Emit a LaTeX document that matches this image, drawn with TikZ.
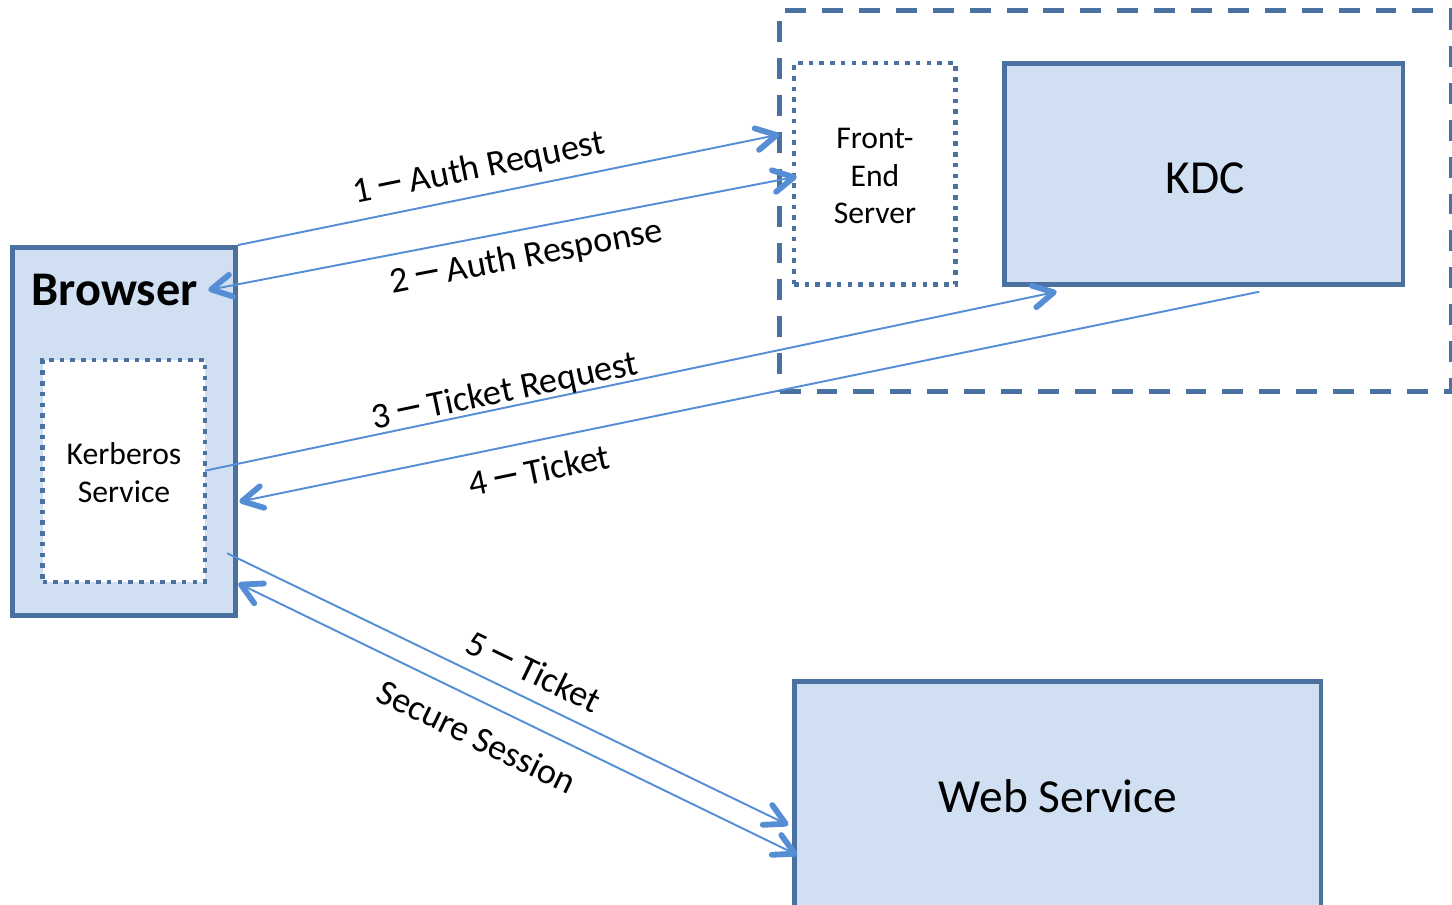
\documentclass[tikz,border=0pt]{standalone}
\usepackage{fontspec}
\usepackage{graphicx}
\setmainfont{Carlito}
\usetikzlibrary{arrows.meta}
\definecolor{edge}{HTML}{4A71A0}
\definecolor{boxfill}{HTML}{D0E0F2}
\definecolor{link}{HTML}{558ED5}
% a longer dash between step number and message name
\newcommand\stepdash{\makebox[0.62em][c]{\scalebox{1.7}[1.3]{–}}}

\begin{document}
\begin{tikzpicture}[x=0.02cm, y=-0.02cm,
  barb/.tip={Straight Barb[length=11.5pt, width=12.5pt, line width=3.3pt, round]},
  solidbox/.style={rectangle, draw=edge, line width=2.8pt, fill=boxfill, inner sep=0pt},
  dotbox/.style={rectangle, draw=edge, line width=2.6pt, dash pattern=on 2.6pt off 3.5pt, fill=white, inner sep=0pt},
  groupbox/.style={rectangle, draw=edge, line width=2.6pt, dash pattern=on 11.9pt off 9.1pt, inner sep=0pt},
  flow/.style={draw=link, line width=1.1pt, -barb},
  twoway/.style={draw=link, line width=1.1pt, barb-barb},
  bigtext/.style={font=\fontsize{27}{32}\selectfont, inner sep=0pt},
  smalltext/.style={font=\fontsize{18}{21.3}\selectfont, align=center, inner sep=0pt},
  flowtext/.style={font=\fontsize{20.6}{24}\selectfont, sloped, anchor=base, inner sep=0pt}
]
\useasboundingbox (0,0) rectangle (1452,904);

% trusted zone around the front-end server and the KDC
\node[groupbox, minimum width=13.43cm, minimum height=7.62cm] (zone) at (1115.35,201.2) {};

% boxes
\node[solidbox, minimum width=4.46cm, minimum height=7.36cm] (browser) at (124,431.5) {};
\node[bigtext, font=\bfseries\fontsize{27.5}{32}\selectfont] (browsertitle) at (114.5,290) {Browser};
\node[dotbox, minimum width=3.25cm, minimum height=4.44cm] (kerberos) at (123.75,471) {};
\node[smalltext] (kerberostext) at (124,472.5) {Kerberos\\Service};

\node[dotbox, minimum width=3.23cm, minimum height=4.43cm] (frontend) at (874.75,173.85) {};
\node[smalltext] (frontendtext) at (875,176) {Front-\\End\\Server};

\node[solidbox, minimum width=7.98cm, minimum height=4.43cm] (kdc) at (1203.5,174) {};
\node[bigtext] (kdctext) at (1205,178) {KDC};

\node[solidbox, minimum width=10.54cm, minimum height=4.6cm] (web) at (1057.5,796) {};
\node[bigtext] (webtext) at (1058,796) {Web Service};

% connector end points
\coordinate (authreqA) at (browser.north east);
\coordinate (authreqB) at (779.5,134.5);
\coordinate (authresA) at (796.7,176.7);
\coordinate (authresB) at (208.3,290);
\coordinate (tickreqA) at (205,470.7);
\coordinate (tickreqB) at (1056.7,291.7);
\coordinate (ticketA) at (1259.3,291.7);
\coordinate (ticketB) at (239.3,501.7);
\coordinate (sendA) at (227.3,553.3);
\coordinate (sendB) at (788.3,825);
\coordinate (sessA) at (797.3,855);
\coordinate (sessB) at (238.3,583.3);

% message flows
\draw[flow] (authreqA) -- node[flowtext, pos=0.455, yshift=9.6pt] {1 \stepdash{} Auth Request} (authreqB);
\draw[twoway] (authresA) -- node[flowtext, pos=0.468, yshift=-21.5pt] {2 \stepdash{} Auth Response} (authresB);
\draw[flow] (tickreqA) -- node[flowtext, pos=0.356, yshift=3.1pt] {3 \stepdash{} Ticket Request} (tickreqB);
\draw[flow] (ticketA) -- node[flowtext, pos=0.712, yshift=-23.8pt] {4 \stepdash{} Ticket} (ticketB);
\draw[flow] (sendA) -- node[flowtext, pos=0.525, yshift=8.5pt] {5 \stepdash{} Ticket} (sendB);
\draw[twoway] (sessA) -- node[flowtext, pos=0.547, yshift=-26pt] {Secure Session} (sessB);
\end{tikzpicture}
\end{document}
